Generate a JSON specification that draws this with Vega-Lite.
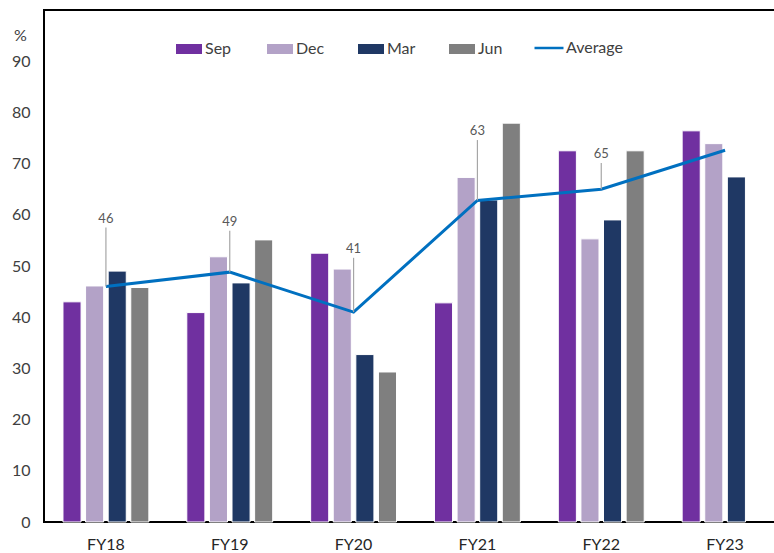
{
  "$schema": "https://vega.github.io/schema/vega-lite/v6.json",
  "width": 743,
  "height": 512,
  "autosize": {"type": "none"},
  "padding": {"left": 44, "top": 10, "right": 0, "bottom": 31},
  "background": "white",
  "config": {
    "font": "Lato",
    "view": {"stroke": "#000", "strokeWidth": 2},
    "axis": {"domain": false, "ticks": false, "grid": false, "labelFont": "Lato", "titleFont": "Lato", "labelFontWeight": "normal"},
    "legend": {"labelFont": "Lato"}
  },
  "datasets": {
    "bars": [
      {"fy": "FY18", "q": "Sep", "v": 43.0},
      {"fy": "FY18", "q": "Dec", "v": 46.1},
      {"fy": "FY18", "q": "Mar", "v": 49.0},
      {"fy": "FY18", "q": "Jun", "v": 45.8},
      {"fy": "FY19", "q": "Sep", "v": 40.9},
      {"fy": "FY19", "q": "Dec", "v": 51.8},
      {"fy": "FY19", "q": "Mar", "v": 46.7},
      {"fy": "FY19", "q": "Jun", "v": 55.1},
      {"fy": "FY20", "q": "Sep", "v": 52.5},
      {"fy": "FY20", "q": "Dec", "v": 49.4},
      {"fy": "FY20", "q": "Mar", "v": 32.7},
      {"fy": "FY20", "q": "Jun", "v": 29.3},
      {"fy": "FY21", "q": "Sep", "v": 42.8},
      {"fy": "FY21", "q": "Dec", "v": 67.3},
      {"fy": "FY21", "q": "Mar", "v": 62.9},
      {"fy": "FY21", "q": "Jun", "v": 77.9},
      {"fy": "FY22", "q": "Sep", "v": 72.5},
      {"fy": "FY22", "q": "Dec", "v": 55.3},
      {"fy": "FY22", "q": "Mar", "v": 59.0},
      {"fy": "FY22", "q": "Jun", "v": 72.5},
      {"fy": "FY23", "q": "Sep", "v": 76.4},
      {"fy": "FY23", "q": "Dec", "v": 73.9},
      {"fy": "FY23", "q": "Mar", "v": 67.4}
    ],
    "avg": [
      {"fy": "FY18", "avg": 46.0, "label": "46", "labelAt": 57.5},
      {"fy": "FY19", "avg": 48.8, "label": "49", "labelAt": 56.9},
      {"fy": "FY20", "avg": 41.0, "label": "41", "labelAt": 51.6},
      {"fy": "FY21", "avg": 62.8, "label": "63", "labelAt": 74.6},
      {"fy": "FY22", "avg": 65.0, "label": "65", "labelAt": 70.1},
      {"fy": "FY23", "avg": 72.6, "label": null, "labelAt": null}
    ]
  },
  "encoding": {
    "x": {
      "field": "fy", "type": "nominal",
      "scale": {"domain": ["FY18", "FY19", "FY20", "FY21", "FY22", "FY23"], "paddingInner": 0.27, "paddingOuter": 0.135},
      "axis": {"title": null, "labelAngle": 0, "labelFontSize": 16, "labelColor": "#262626", "labelPadding": 14}
    }
  },
  "layer": [
    {
      "data": {"name": "bars"},
      "mark": {"type": "bar", "stroke": "white", "strokeWidth": 1},
      "encoding": {
        "xOffset": {"field": "q", "type": "nominal", "scale": {"domain": ["Sep", "Dec", "Mar", "Jun"], "paddingInner": 0.2, "paddingOuter": 0.1}},
        "y": {
          "field": "v", "type": "quantitative",
          "scale": {"domain": [0, 100], "nice": false},
          "axis": {"values": [0, 10, 20, 30, 40, 50, 60, 70, 80, 90], "labelFontSize": 16, "labelColor": "#404040", "labelPadding": 14,
                   "title": "%", "titleAngle": 0, "titleX": -24, "titleY": 25, "titleAlign": "center", "titleBaseline": "middle",
                   "titleFontSize": 16, "titleFontWeight": "normal", "titleColor": "#404040"}
        },
        "color": {
          "field": "q", "type": "nominal",
          "scale": {"domain": ["Sep", "Dec", "Mar", "Jun"], "range": ["#7030A0", "#B3A2C7", "#1F3864", "#7F7F7F"]},
          "legend": {"title": null, "orient": "none", "legendX": 132, "legendY": 26, "direction": "horizontal", "columns": 4,
                     "gridAlign": "all", "columnPadding": 33, "labelFontSize": 16, "labelColor": "#404040", "labelOffset": 3,
                     "symbolType": "M-1,-0.385H1V0.385H-1Z", "symbolSize": 676, "symbolStrokeWidth": 0}
        }
      }
    },
    {
      "data": {"name": "avg"},
      "mark": {"type": "line", "strokeWidth": 3},
      "encoding": {
        "y": {"field": "avg", "type": "quantitative"},
        "color": {
          "datum": "Average",
          "scale": {"domain": ["Average"], "range": ["#0070C0"]},
          "legend": {"title": null, "orient": "none", "legendX": 489, "legendY": 22, "labelFontSize": 16, "labelColor": "#404040",
                     "labelOffset": 1, "symbolType": "stroke", "symbolSize": 841, "symbolStrokeWidth": 2.5}
        }
      }
    },
    {
      "data": {"name": "avg"},
      "transform": [{"filter": "datum.label != null"}],
      "mark": {"type": "rule", "color": "#A6A6A6", "strokeWidth": 1.2},
      "encoding": {
        "y": {"field": "labelAt", "type": "quantitative"},
        "y2": {"field": "avg"}
      }
    },
    {
      "data": {"name": "avg"},
      "transform": [{"filter": "datum.label != null"}],
      "mark": {"type": "text", "fontSize": 13, "color": "#595959", "baseline": "bottom", "dy": -2},
      "encoding": {
        "y": {"field": "labelAt", "type": "quantitative"},
        "text": {"field": "label"}
      }
    }
  ],
  "resolve": {"scale": {"color": "independent"}}
}
